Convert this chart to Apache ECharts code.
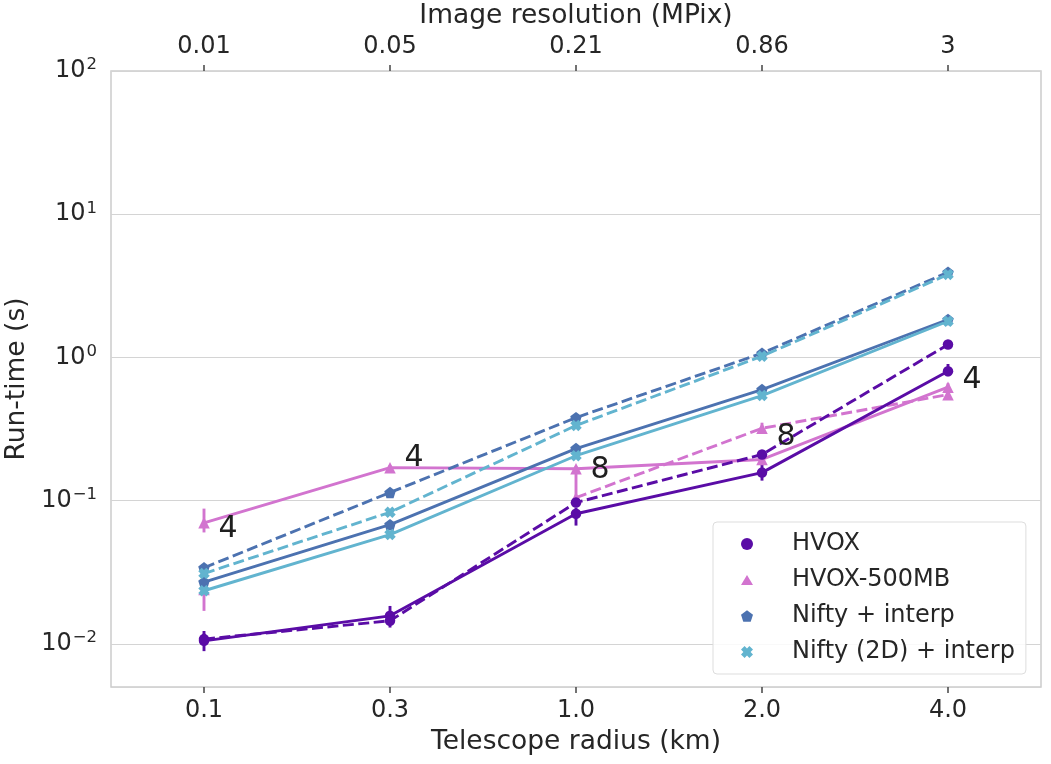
<!DOCTYPE html>
<html>
<head>
<meta charset="utf-8">
<script src="https://cdn.jsdelivr.net/npm/echarts@6/dist/echarts.min.js"></script>
<style>
html, body { margin: 0; padding: 0; background: #fff; }
#chart { width: 1051px; height: 764px; }
</style>
</head>
<body>
<div id="chart"></div>
<script>
// axes
let radius = ["0.1", "0.3", "1.0", "2.0", "4.0"];
let resolution = ["0.01", "0.05", "0.21", "0.86", "3"];

// run-times (s), solid = first run, dashed = second run
let hvox = [0.0105, 0.0157, 0.081, 0.157, 0.80];
let hvoxDash = [0.0108, 0.0145, 0.097, 0.21, 1.23];
let hvox500 = [0.070, 0.17, 0.167, 0.194, 0.62];
let hvox500Dash = [0.024, null, 0.105, 0.32, 0.55];
let nifty = [0.027, 0.068, 0.231, 0.597, 1.84];
let niftyDash = [0.034, 0.114, 0.38, 1.07, 3.93];
let nifty2d = [0.0235, 0.058, 0.206, 0.542, 1.79];
let nifty2dDash = [0.031, 0.083, 0.335, 1.02, 3.8];

// error bars [low, high]
let hvoxErr = [[0.0089, 0.0123], [0.0130, 0.0184], [0.067, 0.089], [0.138, 0.18], [0.74, 0.90]];
let hvoxDashErr = [[0.0100, 0.0118], [0.0138, 0.0155], [0.090, 0.104], [0.195, 0.225], [1.18, 1.28]];
let hvox500Err = [[0.060, 0.088], [0.163, 0.177], [0.160, 0.174], [0.183, 0.205], [0.58, 0.66]];
let hvox500DashErr = [[0.017, 0.028], null, [0.095, 0.165], [0.295, 0.35], [0.52, 0.60]];

// number labels next to points
let noteText = ["4", "4", "8", "8", "4"];
let noteAt = [0.0637, 0.197, 0.162, 0.276, 0.69];

let colors = {
	hvox: "#5a0ca6",
	hvox500: "#d274cf",
	nifty: "#4c72b0",
	nifty2d: "#62b4cf"
};

let pentagon = "path://M0,-10 L9.51,-3.09 L5.88,8.09 L-5.88,8.09 L-9.51,-3.09 Z";
let cross = "path://M-10,-4 L-4,-10 L0,-6 L4,-10 L10,-4 L6,0 L10,4 L4,10 L0,6 L-4,10 L-10,4 L-6,0 Z";
let tri = "path://M0,-10 L10,7 L-10,7 Z";

let font = "DejaVu Sans";
let ink = "#262626";

function lineSeries(name, data, color, symbol, dashed) {
	return {
		name: name,
		type: "line",
		data: data,
		xAxisIndex: 0,
		symbol: symbol,
		symbolSize: symbol == "circle" ? 10.5 : 11.5,
		connectNulls: false,
		animation: false,
		itemStyle: { color: color },
		lineStyle: { color: color, width: 2.9, type: dashed ? [11, 4.5] : "solid" }
	};
}

function errSeries(err, color) {
	let rows = [];
	err.forEach(function(e, i) {
		if (e) rows.push([i, e[0], e[1]]);
	});
	return {
		type: "custom",
		xAxisIndex: 0,
		animation: false,
		silent: true,
		data: rows,
		encode: { x: 0, y: [1, 2] },
		renderItem: function(params, api) {
			let p1 = api.coord([api.value(0), api.value(1)]);
			let p2 = api.coord([api.value(0), api.value(2)]);
			return {
				type: "line",
				shape: { x1: p1[0], y1: p1[1], x2: p2[0], y2: p2[1] },
				style: { stroke: color, lineWidth: 2.9 }
			};
		}
	};
}

let chart = echarts.init(document.getElementById("chart"));

let option = {
	backgroundColor: "#fff",
	textStyle: { fontFamily: font, color: ink },
	grid: {
		left: 111, right: 10, top: 71, bottom: 77,
		outerBoundsMode: "none",
		containLabel: false,
		show: true, borderColor: "#cccccc", borderWidth: 1.5
	},
	legend: {
		orient: "vertical",
		left: 713,
		top: 522,
		padding: [10, 11, 10, 28],
		itemWidth: 12,
		itemHeight: 12,
		itemGap: 12,
		backgroundColor: "rgba(255,255,255,0.85)",
		borderColor: "#dddddd",
		borderWidth: 1,
		borderRadius: 4,
		textStyle: { fontFamily: font, fontSize: 24, color: ink, padding: [0, 0, 0, 34] },
		data: [
			{ name: "HVOX", icon: "circle" },
			{ name: "HVOX-500MB", icon: tri },
			{ name: "Nifty + interp", icon: pentagon },
			{ name: "Nifty (2D) + interp", icon: cross }
		]
	},
	xAxis: [
		{
			type: "category",
			data: radius,
			position: "bottom",
			name: "Telescope radius (km)",
			nameLocation: "middle",
			nameGap: 42,
			nameTextStyle: { fontFamily: font, fontSize: 26.5, color: ink },
			axisLine: { show: false },
			axisTick: { show: true, alignWithLabel: true, length: 6, lineStyle: { color: "#444", width: 1.5 } },
			axisLabel: { fontFamily: font, fontSize: 24, color: ink, margin: 12 },
			splitLine: { show: false }
		},
		{
			type: "category",
			data: resolution,
			position: "top",
			name: "Image resolution (MPix)",
			nameLocation: "middle",
			nameGap: 36,
			nameTextStyle: { fontFamily: font, fontSize: 26.5, color: ink },
			axisLine: { show: false },
			axisTick: { show: true, alignWithLabel: true, length: 6, lineStyle: { color: "#444", width: 1.5 } },
			axisLabel: { fontFamily: font, fontSize: 24, color: ink, margin: 12 },
			splitLine: { show: false }
		}
	],
	yAxis: {
		type: "log",
		logBase: 10,
		min: 0.005,
		max: 100,
		name: "Run-time (s)",
		nameLocation: "middle",
		nameGap: 72,
		nameTextStyle: { fontFamily: font, fontSize: 26.5, color: ink },
		axisLine: { show: false },
		axisTick: { show: false },
		splitLine: { show: true, lineStyle: { color: "#d4d4d4", width: 1.2 } },
		axisLabel: {
			margin: 14,
			formatter: function(v) {
				let e = Math.log10(v);
				if (Math.abs(e - Math.round(e)) > 1e-6) return "";
				e = Math.round(e);
				return "{b|10}{s|" + (e < 0 ? "\u2212" + (-e) : e) + "}";
			},
			rich: {
				b: { fontFamily: font, fontSize: 24, color: ink },
				s: { fontFamily: font, fontSize: 16.5, color: ink, padding: [0, 0, 12, 1] }
			}
		}
	},
	series: [
		errSeries(hvoxErr, colors.hvox),
		errSeries(hvoxDashErr, colors.hvox),
		errSeries(hvox500Err, colors.hvox500),
		errSeries(hvox500DashErr, colors.hvox500),
		lineSeries("HVOX-500MB", hvox500, colors.hvox500, tri, false),
		lineSeries("HVOX-500MB", hvox500Dash, colors.hvox500, tri, true),
		lineSeries("HVOX", hvox, colors.hvox, "circle", false),
		lineSeries("HVOX", hvoxDash, colors.hvox, "circle", true),
		lineSeries("Nifty + interp", nifty, colors.nifty, pentagon, false),
		lineSeries("Nifty + interp", niftyDash, colors.nifty, pentagon, true),
		lineSeries("Nifty (2D) + interp", nifty2d, colors.nifty2d, cross, false),
		lineSeries("Nifty (2D) + interp", nifty2dDash, colors.nifty2d, cross, true),
		{
			type: "scatter",
			data: noteAt,
			symbolSize: 0,
			silent: true,
			animation: false,
			z: 10,
			itemStyle: { opacity: 1 },
			label: {
				show: true,
				position: "inside",
				offset: [24, 0],
				fontFamily: font,
				fontSize: 30,
				color: "#1f1f1f",
				opacity: 1,
				textBorderWidth: 0,
				formatter: function(p) { return noteText[p.dataIndex]; }
			}
		}
	]
};

chart.setOption(option);
</script>
</body>
</html>
